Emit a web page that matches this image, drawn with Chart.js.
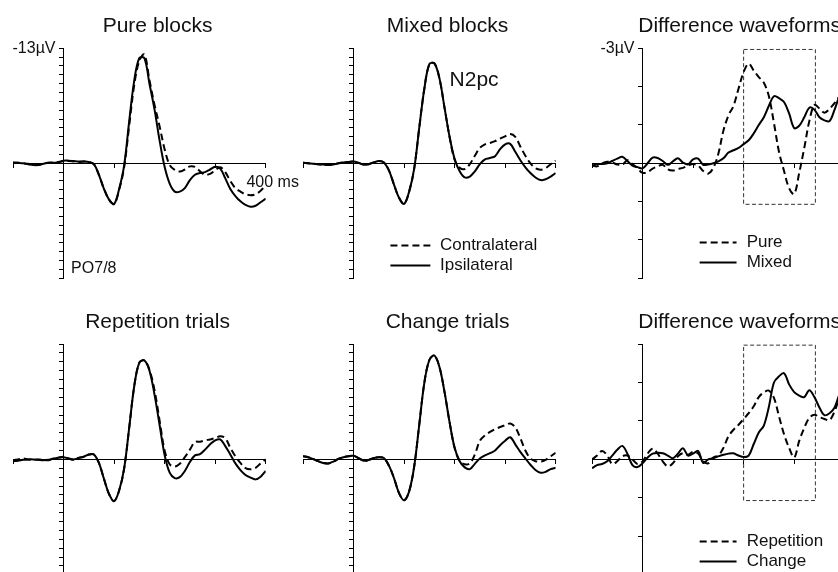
<!DOCTYPE html>
<html>
<head>
<meta charset="utf-8">
<script src="https://cdn.jsdelivr.net/npm/chart.js@4.4.1/dist/chart.umd.min.js"></script>
<style>
  html, body { margin: 0; padding: 0; background: #fff; }
  #figure { position: relative; width: 838px; height: 572px; overflow: hidden; background: #fff; }
  #figure canvas { position: absolute; left: 0; top: 0; }
</style>
</head>
<body>
<div id="figure">
  <canvas id="pure" width="900" height="650"></canvas>
  <canvas id="mixed" width="900" height="650"></canvas>
  <canvas id="diffBlocks" width="900" height="650"></canvas>
  <canvas id="repetition" width="900" height="650"></canvas>
  <canvas id="change" width="900" height="650"></canvas>
  <canvas id="diffTrials" width="900" height="650"></canvas>
</div>
<script>
// Time base of every waveform (ms, stimulus onset at 0)
const timesMs = [-100, -90, -80, -70, -60, -50, -40, -30, -20, -10,
  0, 10, 20, 30, 40, 50, 60, 70, 80, 90,
  100, 110, 120, 130, 140, 150, 160, 170, 180, 190,
  200, 210, 220, 230, 240, 250, 260, 270, 280, 290,
  300, 310, 320, 330, 340, 350, 360, 370, 380, 390,
  400];

// PO7/8 waveforms (µV, negative plotted upward)
const pureContra = [-0.05, -0.05, 0.0, 0.05, 0.15, 0.2, 0.05, -0.05, -0.1, -0.15,
  -0.25, -0.25, -0.2, -0.15, -0.2, -0.15, 0.1, 1.3, 2.9, 4.1,
  4.6, 3.0, 0.4, -4.3, -8.9, -11.6, -12.3, -9.4, -6.6, -4.2,
  -1.6, 0.2, 0.75, 0.94, 0.7, 0.35, 0.4, 0.9, 1.3, 1.2,
  0.8, 0.45, 1.0, 2.0, 2.8, 3.2, 3.5, 3.6, 3.5, 3.1,
  2.5];
const pureIpsi = [-0.1, -0.05, 0.0, 0.1, 0.2, 0.2, 0.05, -0.05, -0.05, -0.1,
  -0.3, -0.3, -0.25, -0.2, -0.2, -0.15, 0.1, 1.3, 2.9, 4.1,
  4.6, 2.9, 0.2, -4.8, -9.4, -11.9, -11.9, -9.0, -6.1, -2.6,
  0.4, 2.3, 3.2, 3.2, 2.8, 1.9, 1.3, 1.1, 1.0, 0.7,
  0.4, 0.6, 1.7, 2.9, 3.7, 4.3, 4.7, 4.9, 4.8, 4.4,
  4.0];
const mixedContra = [-0.05, 0.0, 0.05, 0.1, 0.15, 0.2, 0.15, 0.0, -0.1, -0.15,
  -0.2, -0.05, 0.15, 0.1, -0.1, -0.25, -0.1, 0.8, 2.4, 3.9,
  4.6, 3.2, 0.6, -4.0, -8.4, -11.2, -11.3, -9.6, -6.3, -3.0,
  -0.4, 0.5, 0.65, 0.1, -0.85, -1.75, -2.15, -2.3, -2.5, -2.8,
  -3.05, -3.3, -3.0, -1.9, -0.85, 0.0, 0.56, 0.72, 0.55, 0.1,
  -0.3];
const mixedIpsi = [-0.05, 0.0, 0.05, 0.1, 0.15, 0.2, 0.15, 0.0, -0.1, -0.15,
  -0.2, -0.05, 0.15, 0.1, -0.1, -0.25, -0.1, 0.8, 2.4, 3.9,
  4.6, 3.2, 0.6, -4.0, -8.4, -11.2, -11.3, -9.6, -6.3, -3.0,
  -0.5, 0.9, 1.6, 1.5, 0.9, 0.1, -0.45, -0.6, -0.8, -1.6,
  -2.15, -2.2, -1.3, -0.35, 0.45, 1.1, 1.6, 1.9, 1.8, 1.5,
  1.1];
const repContra = [0.1, 0.0, -0.1, 0.0, 0.05, 0.0, 0.05, 0.1, -0.1, -0.2,
  -0.3, -0.1, 0.05, -0.2, -0.3, -0.55, -0.55, 0.4, 2.2, 3.9,
  4.7, 3.5, 1.0, -3.6, -8.3, -10.9, -11.15, -10.1, -7.8, -4.4,
  -1.0, 0.55, 0.8, 0.5, -0.25, -1.1, -1.95, -2.0, -2.15, -2.25,
  -2.4, -2.6, -2.4, -1.3, -0.35, 0.4, 0.98, 1.12, 0.95, 0.45,
  0.0];
const repIpsi = [0.2, 0.15, 0.05, 0.0, 0.0, 0.05, 0.1, 0.05, -0.1, -0.2,
  -0.25, -0.1, 0.0, -0.15, -0.3, -0.55, -0.55, 0.4, 2.2, 3.9,
  4.7, 3.5, 1.0, -3.6, -8.3, -10.9, -11.15, -10.0, -7.3, -3.9,
  -0.5, 1.5, 2.1, 2.0, 1.3, 0.3, -0.45, -0.6, -1.1, -1.7,
  -2.15, -2.25, -1.5, -0.55, 0.45, 1.2, 1.75, 2.05, 2.25, 1.95,
  1.3];
const changeContra = [-0.35, -0.25, -0.05, 0.2, 0.4, 0.45, 0.25, -0.05, -0.25, -0.35,
  -0.4, -0.15, 0.15, 0.05, -0.15, -0.25, -0.15, 0.7, 2.1, 3.8,
  4.6, 3.6, 0.8, -3.9, -8.6, -11.2, -11.7, -10.4, -7.6, -4.2,
  -1.3, 0.2, 0.55, 0.45, -0.55, -2.1, -2.7, -3.1, -3.4, -3.65,
  -3.85, -4.05, -3.6, -2.4, -1.0, -0.1, 0.2, 0.26, 0.05, -0.35,
  -0.75];
const changeIpsi = [-0.35, -0.25, -0.05, 0.2, 0.4, 0.45, 0.25, -0.05, -0.25, -0.35,
  -0.4, -0.15, 0.15, 0.05, -0.15, -0.25, -0.15, 0.7, 2.1, 3.8,
  4.6, 3.6, 0.8, -3.9, -8.6, -11.2, -11.7, -10.4, -7.6, -4.2,
  -1.3, 0.2, 0.9, 1.1, 0.5, -0.1, -0.45, -0.7, -1.0, -1.6,
  -2.1, -2.5, -1.7, -0.85, -0.1, 0.6, 1.2, 1.5, 1.4, 1.1,
  0.94];

// Contralateral minus ipsilateral difference waves (µV)
const diffPure = [0.05, 0.08, 0.0, -0.04, -0.02, 0.03, 0.04, -0.08, 0.02, 0.13,
  0.25, 0.23, 0.14, 0.08, 0.04, 0.16, 0.19, 0.15, 0.12, 0.06,
  0.02, 0.06, 0.2, 0.27, 0.12, -0.25, -0.85, -1.25, -1.5, -1.95,
  -2.38, -2.6, -2.42, -2.25, -2.1, -1.75, -1.05, -0.3, 0.2, 0.65,
  0.8, 0.25, -0.4, -1.1, -1.52, -1.43, -1.32, -1.42, -1.57, -1.75,
  -1.85];
const diffMixed = [0.07, 0.02, 0.02, 0.0, -0.06, -0.12, -0.17, -0.06, 0.06, 0.1,
  0.13, 0.0, -0.15, -0.14, -0.06, 0.04, -0.05, -0.13, -0.02, 0.03,
  -0.1, -0.12, 0.04, 0.03, 0.0, -0.05, -0.13, -0.28, -0.34, -0.4,
  -0.5, -0.6, -0.78, -1.0, -1.2, -1.5, -1.75, -1.7, -1.6, -1.3,
  -0.92, -0.98, -1.2, -1.45, -1.4, -1.2, -1.12, -1.1, -1.4, -1.75,
  -1.85];
const diffRepetition = [0.0, -0.1, -0.22, -0.1, 0.12, 0.05, -0.08, -0.1, 0.0, 0.12,
  0.05, -0.15, -0.28, -0.15, 0.05, 0.18, 0.1, -0.08, -0.16, -0.12,
  -0.2, -0.15, 0.05, 0.1, -0.05, -0.1, -0.3, -0.6, -0.77, -0.9,
  -1.05, -1.2, -1.38, -1.62, -1.74, -1.79, -1.6, -1.12, -0.65, -0.3,
  -0.05, -0.48, -0.82, -1.08, -1.16, -1.1, -1.05, -1.02, -1.25, -1.6,
  -1.75];
const diffChange = [0.23, 0.15, 0.12, 0.05, -0.1, -0.25, -0.35, -0.15, 0.15, 0.2,
  0.1, -0.05, -0.15, -0.17, -0.16, -0.1, -0.03, -0.15, -0.29, -0.1,
  -0.15, -0.22, 0.09, 0.0, -0.03, -0.08, -0.12, -0.15, -0.16, -0.1,
  -0.06, -0.1, -0.4, -0.7, -0.88, -1.37, -2.0, -2.16, -2.24, -1.95,
  -1.75, -1.66, -1.62, -1.8, -1.62, -1.35, -1.15, -1.2, -1.35, -1.7,
  -1.9];

// N2pc measurement window (ms) and its drawn extent (µV)
const windowMs = [200, 342];
const windowUv = [-2.97, 1.07];

// Text
const titles = ['Pure blocks', 'Mixed blocks', 'Difference waveforms',
  'Repetition trials', 'Change trials', 'Difference waveforms'];
const hemiLabels = ['Contralateral', 'Ipsilateral'];
const blockLabels = ['Pure', 'Mixed'];
const trialLabels = ['Repetition', 'Change'];
const yTopLabelErp = '-13\u00b5V';
const yTopLabelDiff = '-3\u00b5V';
const xEndLabel = '400 ms';
const componentLabel = 'N2pc';
const electrodeLabel = 'PO7/8';

// ---------------------------------------------------------------
const FONT = '"Liberation Sans", Arial, Helvetica, sans-serif';
Chart.defaults.font.family = FONT;
Chart.defaults.color = '#111';

const CANVAS_W = 900, CANVAS_H = 650;
const PLOT_W = 252.7;
// gap between a y tick label and the axis line it belongs to
const Y_LABEL_GAP = '\u2002';

function wave(values, label, dashed) {
  return {
    label,
    data: timesMs.map((t, i) => ({ x: t, y: values[i] })),
    borderColor: '#000',
    borderWidth: 2,
    borderDash: dashed ? [7, 4] : [],
    borderJoinStyle: 'round',
    pointRadius: 0,
    pointHoverRadius: 0,
    tension: 0.35,
    fill: false,
  };
}

function windowBox() {
  const [t0, t1] = windowMs, [v0, v1] = windowUv;
  return {
    data: [{ x: t0, y: v0 }, { x: t1, y: v0 }, { x: t1, y: v1 }, { x: t0, y: v1 }, { x: t0, y: v0 }],
    borderColor: '#333',
    borderWidth: 1,
    borderDash: [4, 2.5],
    pointRadius: 0,
    pointHoverRadius: 0,
    tension: 0,
    fill: false,
  };
}

const panels = [
  { canvas: 'pure', left: 13, top: 48.3, bottom: 278.3, range: 13, title: titles[0], titleAt: 186,
    yLabel: yTopLabelErp, xLabel: xEndLabel,
    datasets: [wave(pureContra, hemiLabels[0], true), wave(pureIpsi, hemiLabels[1], false)],
    notes: [{ text: electrodeLabel, x: 15, y: 12.43, size: 16 }] },
  { canvas: 'mixed', left: 303, top: 48.3, bottom: 278.3, range: 13, title: titles[1], titleAt: 186,
    datasets: [wave(mixedContra, hemiLabels[0], true), wave(mixedIpsi, hemiLabels[1], false)],
    notes: [{ text: componentLabel, x: 190, y: -8.74, size: 21 }],
    legend: { x0: 73, x1: 152, textAt: 171, rows: [9.24, 11.5] } },
  { canvas: 'diffBlocks', left: 592, top: 48.3, bottom: 278.3, range: 3, title: titles[2], titleAt: 192,
    yLabel: yTopLabelDiff,
    datasets: [wave(diffPure, blockLabels[0], true), wave(diffMixed, blockLabels[1], false), windowBox()],
    legend: { x0: 113, x1: 186, textAt: 206, rows: [2.05, 2.58] } },
  { canvas: 'repetition', left: 13, top: 344, bottom: 574.8, range: 13, title: titles[3], titleAt: 186,
    datasets: [wave(repContra, hemiLabels[0], true), wave(repIpsi, hemiLabels[1], false)] },
  { canvas: 'change', left: 303, top: 344, bottom: 574.8, range: 13, title: titles[4], titleAt: 186,
    datasets: [wave(changeContra, hemiLabels[0], true), wave(changeIpsi, hemiLabels[1], false)] },
  { canvas: 'diffTrials', left: 592, top: 344, bottom: 574.8, range: 3, title: titles[5], titleAt: 192,
    datasets: [wave(diffRepetition, trialLabels[0], true), wave(diffChange, trialLabels[1], false), windowBox()],
    legend: { x0: 113, x1: 186, textAt: 206, rows: [2.12, 2.65] } },
];
const panelById = Object.fromEntries(panels.map(p => [p.canvas, p]));

// Titles, in-plot notes and the line-sample legend
const figureText = {
  id: 'figureText',
  afterDraw(chart) {
    const p = panelById[chart.canvas.id];
    const { ctx, chartArea, scales: { x, y } } = chart;
    ctx.save();
    ctx.fillStyle = '#111';
    ctx.textBaseline = 'alphabetic';

    ctx.font = '21px ' + FONT;
    ctx.textAlign = 'center';
    ctx.fillText(p.title, x.getPixelForValue(p.titleAt), chartArea.top - 16.5);

    ctx.textAlign = 'left';
    (p.notes || []).forEach(n => {
      ctx.font = n.size + 'px ' + FONT;
      ctx.fillText(n.text, x.getPixelForValue(n.x), y.getPixelForValue(n.y));
    });

    if (p.legend) {
      const lg = p.legend;
      chart.data.datasets.filter(d => d.label).forEach((d, i) => {
        const py = Math.round(y.getPixelForValue(lg.rows[i])) + 0.5;
        ctx.strokeStyle = d.borderColor;
        ctx.lineWidth = d.borderWidth;
        ctx.setLineDash(d.borderDash || []);
        ctx.beginPath();
        ctx.moveTo(x.getPixelForValue(lg.x0), py);
        ctx.lineTo(x.getPixelForValue(lg.x1), py);
        ctx.stroke();
        ctx.setLineDash([]);
        ctx.font = '17px ' + FONT;
        ctx.textBaseline = 'middle';
        ctx.fillText(d.label, x.getPixelForValue(lg.textAt), py);
      });
    }
    ctx.restore();
  }
};

panels.forEach(p => {
  new Chart(document.getElementById(p.canvas), {
    type: 'line',
    data: { datasets: p.datasets },
    options: {
      responsive: false,
      animation: false,
      events: [],
      layout: {
        padding: { left: p.left, top: p.top, right: CANVAS_W - p.left - PLOT_W, bottom: CANVAS_H - p.bottom }
      },
      plugins: { legend: { display: false }, tooltip: { enabled: false }, title: { display: false } },
      scales: {
        x: {
          type: 'linear', min: -100, max: 400, position: { y: 0 },
          grid: { display: true, drawOnChartArea: false, drawTicks: true, tickLength: 4, color: '#000', lineWidth: 1 },
          border: { display: true, color: '#000', width: 1 },
          ticks: {
            stepSize: 100, autoSkip: false, maxRotation: 0, padding: 6, labelOffset: 7,
            font: { size: 16 }, color: '#111',
            callback: v => (v === 400 && p.xLabel ? p.xLabel : '')
          }
        },
        y: {
          type: 'linear', min: -p.range, max: p.range, reverse: true, position: { x: 0 },
          grid: { display: true, drawOnChartArea: false, drawTicks: true, tickLength: 4, color: '#000', lineWidth: 1 },
          border: { display: true, color: '#000', width: 1 },
          ticks: {
            stepSize: 1, autoSkip: false, maxTicksLimit: 100, padding: 3,
            font: { size: 16 }, color: '#111',
            callback: v => (v === -p.range && p.yLabel ? p.yLabel + Y_LABEL_GAP : '')
          }
        }
      }
    },
    plugins: [figureText]
  });
});
</script>
</body>
</html>
